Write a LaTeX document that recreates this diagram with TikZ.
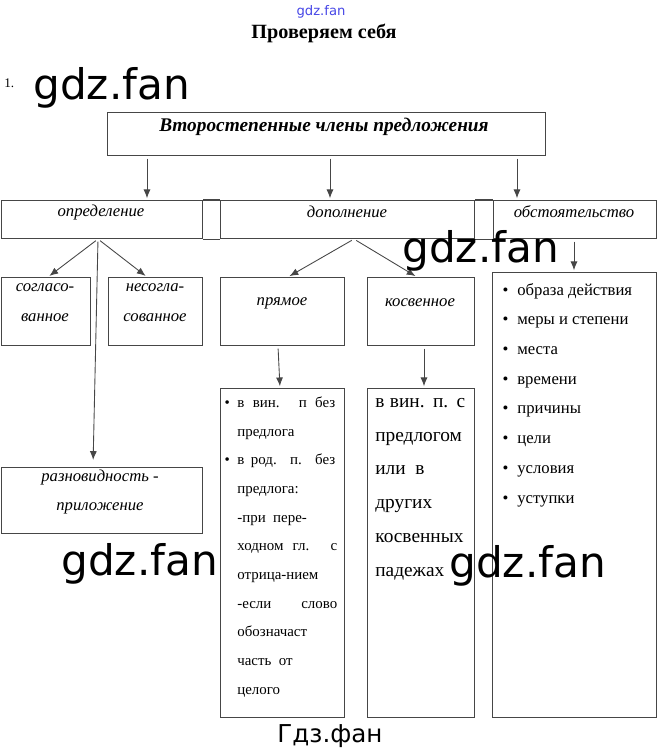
\documentclass[tikz,border=0pt]{standalone}
\usepackage{fontspec}
\setmainfont{Liberation Serif}
\newfontfamily\wmfont{DejaVu Sans}
\usepackage{tikz}
\usetikzlibrary{arrows.meta,positioning}
\usepackage{xcolor}
\definecolor{lineg}{RGB}{70,70,70}
\definecolor{wmblue}{RGB}{70,70,230}
\tikzstyle{arrow} = [->,>={Latex[length=5pt,width=4pt]},color=lineg,line width=0.5pt,shorten <=1.5pt,shorten >=1pt]
\tikzstyle{box} = [rectangle, draw=lineg, line width=0.6pt, inner sep=0pt, anchor=north west]
\tikzstyle{lbl} = [font=\fontsize{9.5}{17}\selectfont\itshape, align=center, inner sep=0pt]
\tikzstyle{watermark} = [font=\wmfont\fontsize{24}{24}\selectfont, anchor=base west, inner sep=0pt]
\newcommand{\jline}[2]{\makebox[#1][s]{#2}}

\begin{document}
\begin{tikzpicture}[x=0.02cm, y=-0.02cm]
    \useasboundingbox (0,0) rectangle (657,752);

    % Header
    \node[font=\wmfont\fontsize{7.5}{8}\selectfont, color=wmblue, inner sep=0pt] (site) at (321,12) {gdz.fan};
    \node[font=\fontsize{11.5}{13}\selectfont\bfseries, inner sep=0pt] (title) at (324,33) {Проверяем себя};
    \node[font=\fontsize{7.5}{8}\selectfont, anchor=base west, inner sep=0pt] (num) at (4,87) {1.};

    % Top box
    \node[box, minimum width=8.76cm, minimum height=0.86cm] (top) at (107,112) {};
    \node[font=\fontsize{11}{13}\selectfont\bfseries\itshape, inner sep=0pt] (topl) at (324,127) {Второстепенные члены предложения};

    % Second row
    \node[box, minimum width=4.02cm, minimum height=0.76cm] (def) at (1,200) {};
    \node[box, minimum width=5.08cm, minimum height=0.76cm] (dop) at (220,200) {};
    \node[box, minimum width=3.26cm, minimum height=0.76cm] (obst) at (493,200) {};
    \draw[lineg, line width=0.6pt] (def.north east) -- (dop.north west) (def.south east) -- (dop.south west);
    \draw[lineg, line width=0.6pt] (dop.north east) -- (obst.north west) (dop.south east) -- (obst.south west);
    \node[lbl] (defl) at (101,212) {определение};
    \node[lbl] (dopl) at (347,212) {дополнение};
    \node[lbl] (obstl) at (574,212) {обстоятельство};

    % Third row
    \node[box, minimum width=1.78cm, minimum height=1.36cm] (sogl) at (1,277) {};
    \node[box, minimum width=1.88cm, minimum height=1.36cm] (nesogl) at (108,277) {};
    \node[box, minimum width=2.48cm, minimum height=1.36cm] (pryam) at (220,277) {};
    \node[box, minimum width=2.14cm, minimum height=1.36cm] (kosv) at (367,277) {};
    \node[lbl] (sogll) at (45,303) {согласо-\\ванное};
    \node[lbl] (nesogll) at (155,303) {несогла-\\сованное};
    \node[lbl] (pryaml) at (282,303) {прямое};
    \node[lbl] (kosvl) at (420,303) {косвенное};

    % Apposition
    \node[box, minimum width=4.02cm, minimum height=1.32cm] (razn) at (1,467) {};
    \node[lbl, font=\fontsize{9.5}{16}\selectfont\itshape] (raznl) at (100,492) {разновидность -\\приложение};

    % Lists
    \node[box, minimum width=2.48cm, minimum height=6.58cm] (list1) at (220,388) {};
    \node[box, minimum width=2.14cm, minimum height=6.58cm] (list2) at (367,388) {};
    \node[box, minimum width=3.28cm, minimum height=8.9cm] (list3) at (492,272) {};

    % (base = last line)
    \node[font=\fontsize{8.5}{16.3}\selectfont, align=left, anchor=base west, inner sep=0pt] (list1t) at (237,694) {%
        \llap{•\hspace{1.5mm}}\jline{1.96cm}{в вин. п без}\\
        предлога\\
        \llap{•\hspace{1.5mm}}\jline{1.96cm}{в род. п. без}\\
        предлога:\\
        -при\ \ пере-\\
        \jline{2cm}{ходном гл. с}\\
        отрица-нием\\
        \jline{2cm}{-если слово}\\
        обозначаст\\
        часть\ \ от\\
        целого};
    \node[font=\fontsize{11}{19.2}\selectfont, align=left, anchor=base west, inner sep=0pt] (list2t) at (375,576) {%
        \jline{1.8cm}{в вин. п. с}\\
        предлогом\\
        или\ \ в\\
        других\\
        косвенных\\
        падежах};
    \node[font=\fontsize{9.5}{16.9}\selectfont, align=left, anchor=base west, inner sep=0pt] (list3t) at (517,503) {%
        \llap{•\hspace{1.8mm}}образа действия\\
        \llap{•\hspace{1.8mm}}меры и степени\\
        \llap{•\hspace{1.8mm}}места\\
        \llap{•\hspace{1.8mm}}времени\\
        \llap{•\hspace{1.8mm}}причины\\
        \llap{•\hspace{1.8mm}}цели\\
        \llap{•\hspace{1.8mm}}условия\\
        \llap{•\hspace{1.8mm}}уступки};

    % Arrows
    \draw[arrow] (top.south -| 147,0) -- (def.north -| 147,0);
    \draw[arrow] (top.south -| 330,0) -- (dop.north -| 330,0);
    \draw[arrow] (top.south -| 517,0) -- (obst.north -| 517,0);
    \draw[arrow] (def.south -| 98,0) -- (sogl.north -| 48,0);
    \draw[arrow] (def.south -| 98,0) -- (nesogl.north -| 147,0);
    \draw[arrow, shorten >=4pt] (def.south -| 98,0) -- (razn.north -| 93,0);
    \draw[arrow] (dop.south -| 354,0) -- (pryam.north -| 288,0);
    \draw[arrow] (dop.south -| 354,0) -- (kosv.north -| 417,0);
    \draw[arrow] (pryam.south -| 278,0) -- (list1.north -| 280,0);
    \draw[arrow] (kosv.south -| 424,0) -- (list2.north -| 424,0);
    \draw[arrow] (obst.south -| 574,0) -- (list3.north -| 574,0);

    % Watermarks
    \node[watermark] (wm1) at (33,99) {gdz.fan};
    \node[watermark] (wm2) at (402,262) {gdz.fan};
    \node[watermark] (wm3) at (61,575) {gdz.fan};
    \node[watermark] (wm4) at (449,577) {gdz.fan};
    \node[font=\wmfont\fontsize{14}{16}\selectfont, anchor=base, inner sep=0pt] (site2) at (330,742) {Гдз.фан};
\end{tikzpicture}
\end{document}
